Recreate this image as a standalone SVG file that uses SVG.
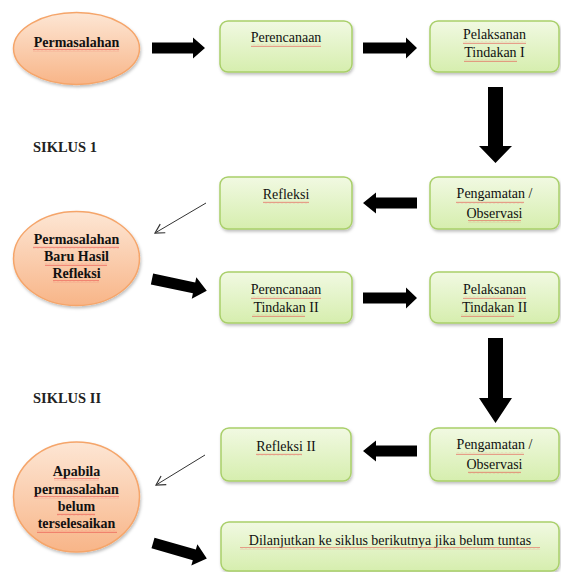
<svg xmlns="http://www.w3.org/2000/svg" width="561" height="572" viewBox="0 0 561 572">
<defs>
<linearGradient id="gBox" x1="0" y1="0" x2="0" y2="1">
<stop offset="0" stop-color="#f1f9e2"/>
<stop offset="1" stop-color="#d6eeae"/>
</linearGradient>
<linearGradient id="gEll" x1="0" y1="0" x2="0" y2="1">
<stop offset="0" stop-color="#fde6d4"/>
<stop offset="1" stop-color="#f8b588"/>
</linearGradient>
<filter id="sh" x="-10%" y="-10%" width="130%" height="140%">
<feDropShadow dx="1" dy="2" stdDeviation="1.5" flood-color="#000" flood-opacity="0.25"/>
</filter>
<pattern id="sq" width="4" height="3" patternUnits="userSpaceOnUse">
<path d="M0 2.2 L1 0.8 L2 2.2 L3 0.8 L4 2.2" fill="none" stroke="#e84040" stroke-width="0.6" stroke-opacity="0.8"/>
</pattern>
<marker id="open" markerWidth="12" markerHeight="12" refX="10" refY="6" orient="auto" markerUnits="userSpaceOnUse">
<path d="M1 1 L10 6 L1 11" fill="none" stroke="#333" stroke-width="1.2"/>
</marker>
</defs>
<rect width="561" height="572" fill="#fff"/>

<g id="connectors" fill="#000">
<polygon points="152,42.5 193,42.5 193,37.5 205,48 193,58.5 193,53.5 152,53.5"/>
<polygon points="363,42.5 406,42.5 406,37.5 417,48 406,58.5 406,53.5 363,53.5"/>
<polygon points="488,87 503,87 503,146 512,146 495.5,163 479,146 488,146"/>
<polygon points="417,197.5 376,197.5 376,192.5 363,203 376,213.5 376,208.5 417,208.5"/>
<line x1="206" y1="203" x2="155" y2="233" stroke="#333" stroke-width="1" fill="none" marker-end="url(#open)"/>
<polygon transform="translate(152,279) rotate(12)" points="0,-5.5 43,-5.5 43,-11 56,0 43,11 43,5.5 0,5.5"/>
<polygon points="363,292.5 406,292.5 406,287.5 417,298 406,308.5 406,303.5 363,303.5"/>
<polygon points="488,338 503,338 503,398 512,398 495.5,423 479,398 488,398"/>
<polygon points="417,445.5 376,445.5 376,440.5 363,451 376,461.5 376,456.5 417,456.5"/>
<line x1="205" y1="455" x2="156" y2="485" stroke="#333" stroke-width="1" fill="none" marker-end="url(#open)"/>
<polygon transform="translate(153,543) rotate(16)" points="0,-5.5 43,-5.5 43,-11 56,0 43,11 43,5.5 0,5.5"/>
</g>

<g id="permasalahan">
<ellipse cx="76.5" cy="48.5" rx="63" ry="36" fill="url(#gEll)" stroke="#f5a56a" stroke-width="1.5" filter="url(#sh)"/>
<text font-family="Liberation Serif" font-size="20" font-weight="bold" fill="#111" text-anchor="middle" transform="translate(76.5,47) scale(0.7)">Permasalahan</text>
<rect fill="url(#sq)" x="33" y="49" width="86" height="3"/>
</g>

<g id="perencanaan">
<rect x="220" y="21" width="132" height="51" rx="8" fill="url(#gBox)" stroke="#a9cf6a" stroke-width="1.5" filter="url(#sh)"/>
<text font-family="Liberation Serif" font-size="20" fill="#111" text-anchor="middle" transform="translate(286,42) scale(0.7)">Perencanaan</text>
<rect fill="url(#sq)" x="251" y="44" width="70" height="3"/>
</g>

<g id="pelaksanan1">
<rect x="430" y="21" width="129" height="51" rx="8" fill="url(#gBox)" stroke="#a9cf6a" stroke-width="1.5" filter="url(#sh)"/>
<text font-family="Liberation Serif" font-size="20" fill="#111" text-anchor="middle" transform="translate(494.5,39) scale(0.7)">Pelaksanan</text>
<text font-family="Liberation Serif" font-size="20" fill="#111" text-anchor="middle" transform="translate(494.5,57) scale(0.7)">Tindakan I</text>
<rect fill="url(#sq)" x="463" y="41" width="63" height="3"/>
<rect fill="url(#sq)" x="464" y="59" width="53" height="3"/>
</g>

<text font-family="Liberation Serif" font-size="20" font-weight="bold" fill="#222" transform="translate(33,152) scale(0.725)">SIKLUS 1</text>

<g id="refleksi1">
<rect x="220" y="177" width="132" height="52" rx="8" fill="url(#gBox)" stroke="#a9cf6a" stroke-width="1.5" filter="url(#sh)"/>
<text font-family="Liberation Serif" font-size="20" fill="#111" text-anchor="middle" transform="translate(286,199) scale(0.7)">Refleksi</text>
<rect fill="url(#sq)" x="263" y="201" width="46" height="3"/>
</g>

<g id="pengamatan1">
<rect x="430" y="177" width="129" height="52" rx="8" fill="url(#gBox)" stroke="#a9cf6a" stroke-width="1.5" filter="url(#sh)"/>
<text font-family="Liberation Serif" font-size="20" fill="#111" text-anchor="middle" transform="translate(494.5,198) scale(0.7)">Pengamatan /</text>
<text font-family="Liberation Serif" font-size="20" fill="#111" text-anchor="middle" transform="translate(494.5,218) scale(0.7)">Observasi</text>
<rect fill="url(#sq)" x="456" y="201" width="68" height="3"/>
<rect fill="url(#sq)" x="468" y="220" width="53" height="3"/>
</g>

<g id="permasalahan-baru">
<ellipse cx="76.5" cy="258.5" rx="63" ry="47" fill="url(#gEll)" stroke="#f5a56a" stroke-width="1.5" filter="url(#sh)"/>
<text font-family="Liberation Serif" font-size="20" font-weight="bold" fill="#111" text-anchor="middle" transform="translate(76.5,244) scale(0.7)">Permasalahan</text>
<text font-family="Liberation Serif" font-size="20" font-weight="bold" fill="#111" text-anchor="middle" transform="translate(76.5,261) scale(0.7)">Baru Hasil</text>
<text font-family="Liberation Serif" font-size="20" font-weight="bold" fill="#111" text-anchor="middle" transform="translate(76.5,278) scale(0.7)">Refleksi</text>
<rect fill="url(#sq)" x="33" y="246" width="86" height="3"/>
<rect fill="url(#sq)" x="45" y="263" width="62" height="3"/>
<rect fill="url(#sq)" x="53" y="280" width="46" height="3"/>
</g>

<g id="perencanaan2">
<rect x="220" y="272" width="132" height="51" rx="8" fill="url(#gBox)" stroke="#a9cf6a" stroke-width="1.5" filter="url(#sh)"/>
<text font-family="Liberation Serif" font-size="20" fill="#111" text-anchor="middle" transform="translate(286,294) scale(0.7)">Perencanaan</text>
<text font-family="Liberation Serif" font-size="20" fill="#111" text-anchor="middle" transform="translate(286,312) scale(0.7)">Tindakan II</text>
<rect fill="url(#sq)" x="251" y="296" width="70" height="3"/>
<rect fill="url(#sq)" x="252" y="314" width="53" height="3"/>
</g>

<g id="pelaksanan2">
<rect x="430" y="272" width="129" height="51" rx="8" fill="url(#gBox)" stroke="#a9cf6a" stroke-width="1.5" filter="url(#sh)"/>
<text font-family="Liberation Serif" font-size="20" fill="#111" text-anchor="middle" transform="translate(494.5,294) scale(0.7)">Pelaksanan</text>
<text font-family="Liberation Serif" font-size="20" fill="#111" text-anchor="middle" transform="translate(494.5,312) scale(0.7)">Tindakan II</text>
<rect fill="url(#sq)" x="463" y="296" width="63" height="3"/>
<rect fill="url(#sq)" x="461" y="314" width="53" height="3"/>
</g>

<text font-family="Liberation Serif" font-size="20" font-weight="bold" fill="#222" transform="translate(33,403) scale(0.725)">SIKLUS II</text>

<g id="refleksi2">
<rect x="221" y="428" width="130" height="53" rx="8" fill="url(#gBox)" stroke="#a9cf6a" stroke-width="1.5" filter="url(#sh)"/>
<text font-family="Liberation Serif" font-size="20" fill="#111" text-anchor="middle" transform="translate(286,451) scale(0.7)">Refleksi II</text>
<rect fill="url(#sq)" x="256" y="453" width="46" height="3"/>
</g>

<g id="pengamatan2">
<rect x="430" y="428" width="129" height="53" rx="8" fill="url(#gBox)" stroke="#a9cf6a" stroke-width="1.5" filter="url(#sh)"/>
<text font-family="Liberation Serif" font-size="20" fill="#111" text-anchor="middle" transform="translate(494.5,449) scale(0.7)">Pengamatan /</text>
<text font-family="Liberation Serif" font-size="20" fill="#111" text-anchor="middle" transform="translate(494.5,469) scale(0.7)">Observasi</text>
<rect fill="url(#sq)" x="456" y="452" width="68" height="3"/>
<rect fill="url(#sq)" x="468" y="471" width="53" height="3"/>
</g>

<g id="apabila">
<ellipse cx="76.5" cy="497" rx="63" ry="55" fill="url(#gEll)" stroke="#f5a56a" stroke-width="1.5" filter="url(#sh)"/>
<text font-family="Liberation Serif" font-size="20" font-weight="bold" fill="#111" text-anchor="middle" transform="translate(76.5,476) scale(0.7)">Apabila</text>
<text font-family="Liberation Serif" font-size="20" font-weight="bold" fill="#111" text-anchor="middle" transform="translate(76.5,494) scale(0.7)">permasalahan</text>
<text font-family="Liberation Serif" font-size="20" font-weight="bold" fill="#111" text-anchor="middle" transform="translate(76.5,511) scale(0.7)">belum</text>
<text font-family="Liberation Serif" font-size="20" font-weight="bold" fill="#111" text-anchor="middle" transform="translate(76.5,528) scale(0.7)">terselesaikan</text>
<rect fill="url(#sq)" x="54" y="478" width="45" height="3"/>
<rect fill="url(#sq)" x="34" y="496" width="85" height="3"/>
<rect fill="url(#sq)" x="57" y="513" width="38" height="3"/>
<rect fill="url(#sq)" x="37" y="530" width="80" height="3"/>
</g>

<g id="dilanjutkan">
<rect x="221" y="522" width="338" height="49" rx="8" fill="url(#gBox)" stroke="#a9cf6a" stroke-width="1.5" filter="url(#sh)"/>
<text font-family="Liberation Serif" font-size="20" fill="#111" text-anchor="middle" transform="translate(390,545) scale(0.7)">Dilanjutkan ke siklus berikutnya jika belum tuntas</text>
<rect fill="url(#sq)" x="240" y="547" width="300" height="3"/>
</g>
</svg>
